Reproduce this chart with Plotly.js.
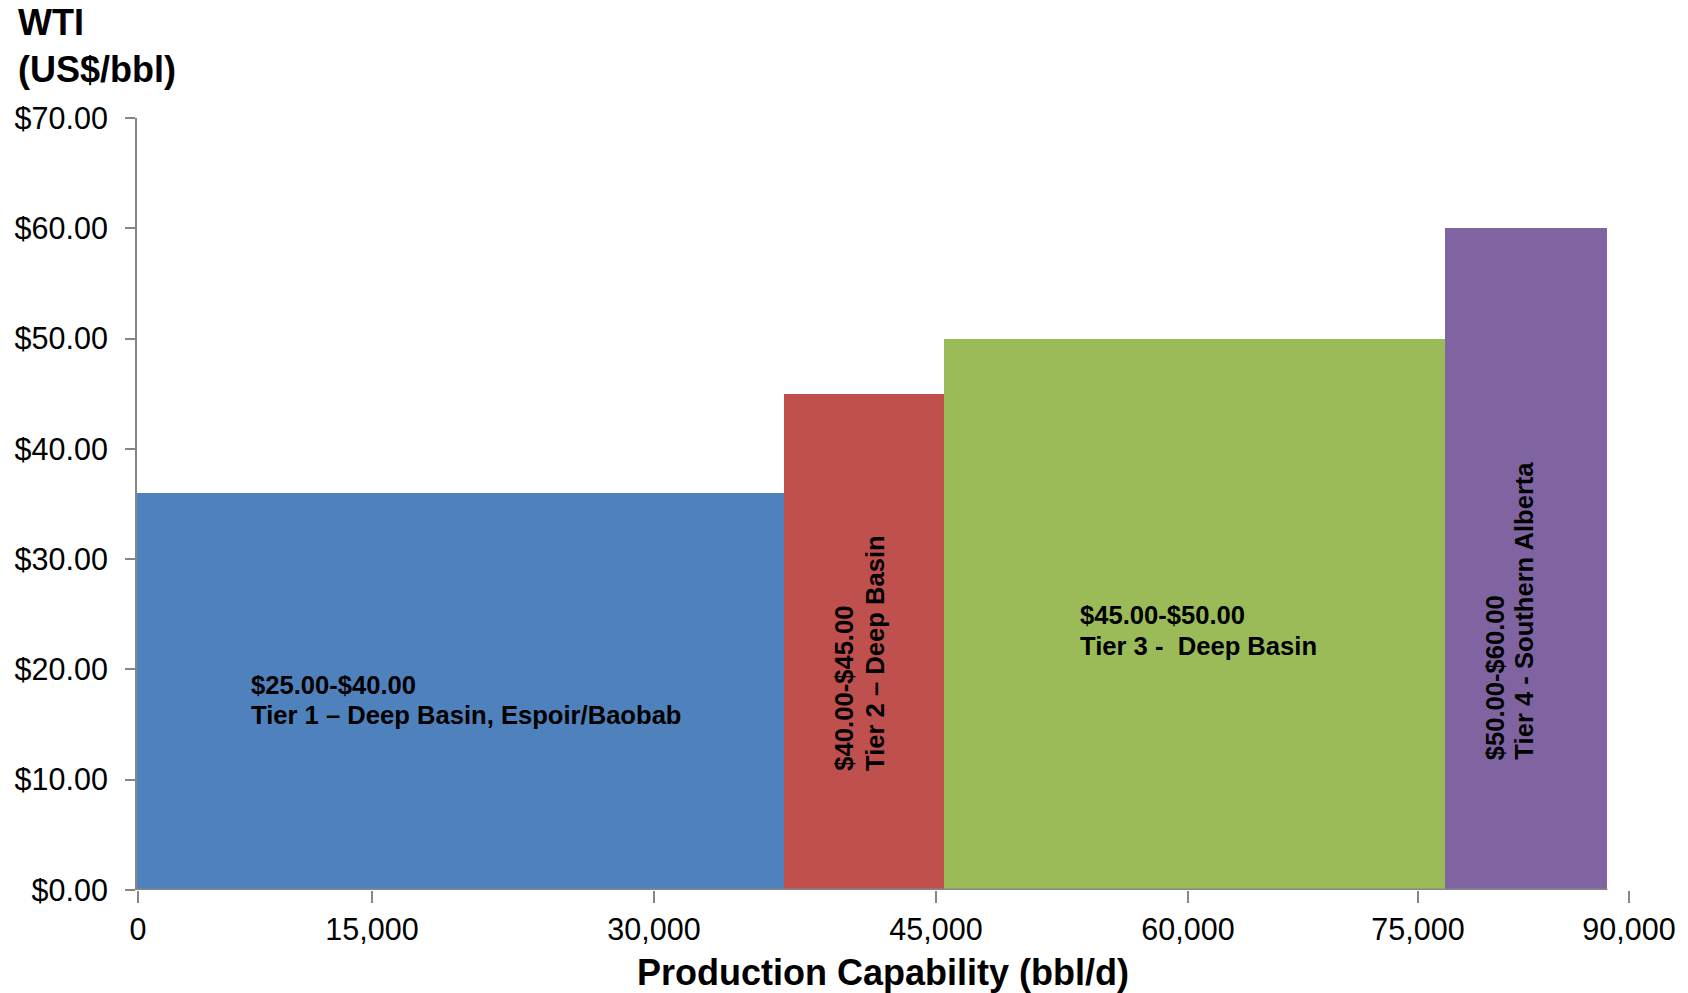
<!DOCTYPE html>
<html>
<head>
<meta charset="utf-8">
<script src="https://cdn.plot.ly/plotly-3.0.1.min.js"></script>
<style>html,body{margin:0;padding:0;background:#fff;}#chart{width:1688px;height:993px;}</style>
</head>
<body>
<div id="chart"></div>
<script>
// Data
const tiers = ["Tier 1", "Tier 2", "Tier 3", "Tier 4"];
const capacity = [39000, 9700, 30200, 9800];      // bbl/d width of each tier
const price = [36, 45, 50, 60];                   // WTI US$/bbl (bar height)
const colors = ["#4F81BD", "#C0504D", "#9BBB59", "#8064A2"];
const rangeLabels = ["$25.00-$40.00", "$40.00-$45.00", "$45.00-$50.00", "$50.00-$60.00"];
const tierLabels = ["Tier 1 \u2013 Deep Basin, Espoir/Baobab", "Tier 2 \u2013 Deep Basin", "Tier 3 -\u00a0 Deep Basin", "Tier 4 - Southern Alberta"];
// x tick labels (positions as drawn on the reference's axis)
const xTickText = ["0", "15,000", "30,000", "45,000", "60,000", "75,000", "90,000"];
const xTickPos = [60, 14175, 31185, 48196, 63396, 77270, 90000];
const yTicks = [0, 10, 20, 30, 40, 50, 60, 70];
const yTickText = yTicks.map(v => "$" + v.toFixed(2));

const starts = [];
let acc = 0;
for (const c of capacity) { starts.push(acc); acc += c; }
const total = acc;

const trace = {
  type: "bar",
  x: starts.map((s, i) => s + capacity[i] / 2),
  y: price,
  width: capacity,
  marker: { color: colors, line: { width: 0 } },
  text: tiers,
  textposition: "none",
  hoverinfo: "x+y",
  showlegend: false
};

const fontFam = "Liberation Sans, Arial, sans-serif";
const annFont = { family: fontFam, size: 25.6, color: "#000" };
const bold = t => "<b>" + t + "</b>";

const annotations = [
  // Tier 1 (horizontal)
  { x: 6750, y: 18.6, text: bold(rangeLabels[0]), xanchor: "left", yanchor: "middle", showarrow: false, font: annFont },
  { x: 6750, y: 15.9, text: bold(tierLabels[0]), xanchor: "left", yanchor: "middle", showarrow: false, font: annFont },
  // Tier 3 (horizontal)
  { x: 56750, y: 24.9, text: bold(rangeLabels[2]), xanchor: "left", yanchor: "middle", showarrow: false, font: annFont },
  { x: 56750, y: 22.1, text: bold(tierLabels[2]), xanchor: "left", yanchor: "middle", showarrow: false, font: annFont },
  // Tier 2 (vertical)
  { x: 42650, y: 10.6, text: bold(rangeLabels[1]), xanchor: "center", yanchor: "bottom", textangle: -90, showarrow: false, font: annFont },
  { x: 44510, y: 10.6, text: bold(tierLabels[1]), xanchor: "center", yanchor: "bottom", textangle: -90, showarrow: false, font: annFont },
  // Tier 4 (vertical)
  { x: 81900, y: 11.6, text: bold(rangeLabels[3]), xanchor: "center", yanchor: "bottom", textangle: -90, showarrow: false, font: annFont },
  { x: 83700, y: 11.6, text: bold(tierLabels[3]), xanchor: "center", yanchor: "bottom", textangle: -90, showarrow: false, font: annFont }
];

const axisGray = "#868686";
const layout = {
  width: 1688, height: 993,
  paper_bgcolor: "#fff", plot_bgcolor: "#fff",
  margin: { l: 137, r: 59, t: 118, b: 103 },
  bargap: 0,
  font: { family: fontFam, color: "#000" },
  title: {
    text: "<b>WTI<br>(US$/bbl)</b>",
    font: { family: fontFam, size: 36, color: "#000" },
    xref: "container", x: 18 / 1688, xanchor: "left",
    yref: "container", y: 1 - 35 / 993, yanchor: "top",
    pad: { t: 0, l: 0 }
  },
  xaxis: {
    range: [0, 90000],
    tickmode: "array", tickvals: xTickPos, ticktext: xTickText,
    ticks: "outside", ticklen: 12, tickwidth: 2, tickcolor: axisGray,
    showline: false, showgrid: false, zeroline: false,
    tickfont: { family: fontFam, size: 30.5, color: "#000" },
    title: { text: "<b>Production Capability (bbl/d)</b>", font: { family: fontFam, size: 36, color: "#000" }, standoff: 16 },
    fixedrange: true
  },
  yaxis: {
    range: [0, 70],
    tickmode: "array", tickvals: yTicks, ticktext: yTickText,
    ticks: "outside", ticklen: 10, tickwidth: 2, tickcolor: axisGray,
    showline: true, linecolor: axisGray, linewidth: 2,
    showgrid: false, zeroline: false,
    tickfont: { family: fontFam, size: 30.5, color: "#000" },
    ticklabelstandoff: 11,
    fixedrange: true
  },
  shapes: [
    { type: "line", xref: "x", yref: "y", x0: 0, x1: total, y0: 0, y1: 0, line: { color: axisGray, width: 3 } },
    { type: "line", xref: "x", yref: "y", x0: 86900, x1: 90000, y0: -5, y1: -5, ysizemode: "pixel", yanchor: 0, line: { color: axisGray, width: 2 } }
  ],
  annotations: annotations
};

Plotly.newPlot("chart", [trace], layout, { displayModeBar: false, staticPlot: true });
</script>
</body>
</html>
